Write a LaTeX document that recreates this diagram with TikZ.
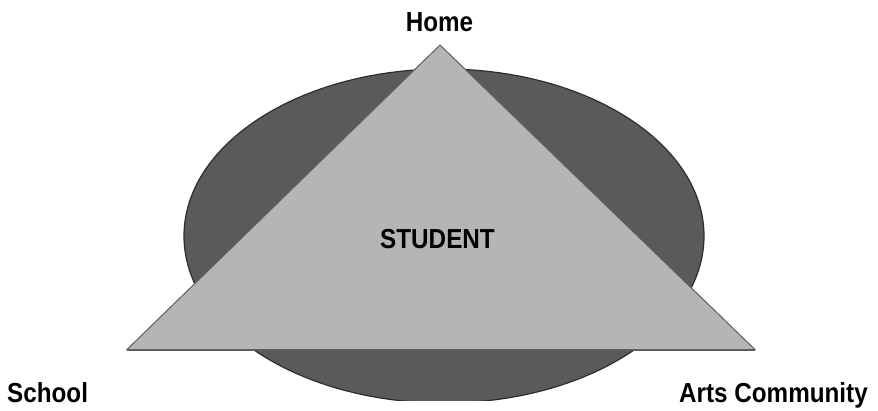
\documentclass[tikz,border=0pt]{standalone}
\usepackage{fontspec}
\setmainfont{Liberation Sans}
\newcommand{\tallword}[1]{\scalebox{0.97}[1.1]{#1}}
\begin{document}
\begin{tikzpicture}[x=1pt,y=-1pt,
  label text/.style={font=\fontsize{25}{30}\selectfont\bfseries, inner sep=0pt},
  ring/.style={fill=ringgray, draw=ringedge, line width=1.2pt},
  wedge/.style={fill=wedgegray, draw=wedgeedge, line width=1pt, line join=miter}]
\definecolor{ringgray}{HTML}{5A5A5A}
\definecolor{ringedge}{HTML}{2E2E2E}
\definecolor{wedgegray}{HTML}{B5B5B5}
\definecolor{wedgeedge}{HTML}{5E5E5E}
\useasboundingbox (0,0) rectangle (878,410);
\begin{scope}
  \clip (0,0) rectangle (878,400);
  \draw[ring] (444,236) ellipse [x radius=260, y radius=167];
\end{scope}
% the triangle of places around the student
\coordinate (apex) at (440,45);
\coordinate (left) at (127,349.5);
\coordinate (right) at (755,349.5);
\draw[wedge] (apex) -- (right) -- (left) -- cycle;
\draw[wedgeedge, line width=2pt] (left) -- (right);
\node[label text, anchor=base] (home) at (439.5,31) {\tallword{Home}};
\node[label text, anchor=base] (student) at (437.5,248) {\tallword{STUDENT}};
\node[label text, anchor=base west] (school) at (7,402) {\tallword{School}};
\node[label text, anchor=base east] (arts) at (868,402) {\tallword{Arts Community}};
\end{tikzpicture}
\end{document}
